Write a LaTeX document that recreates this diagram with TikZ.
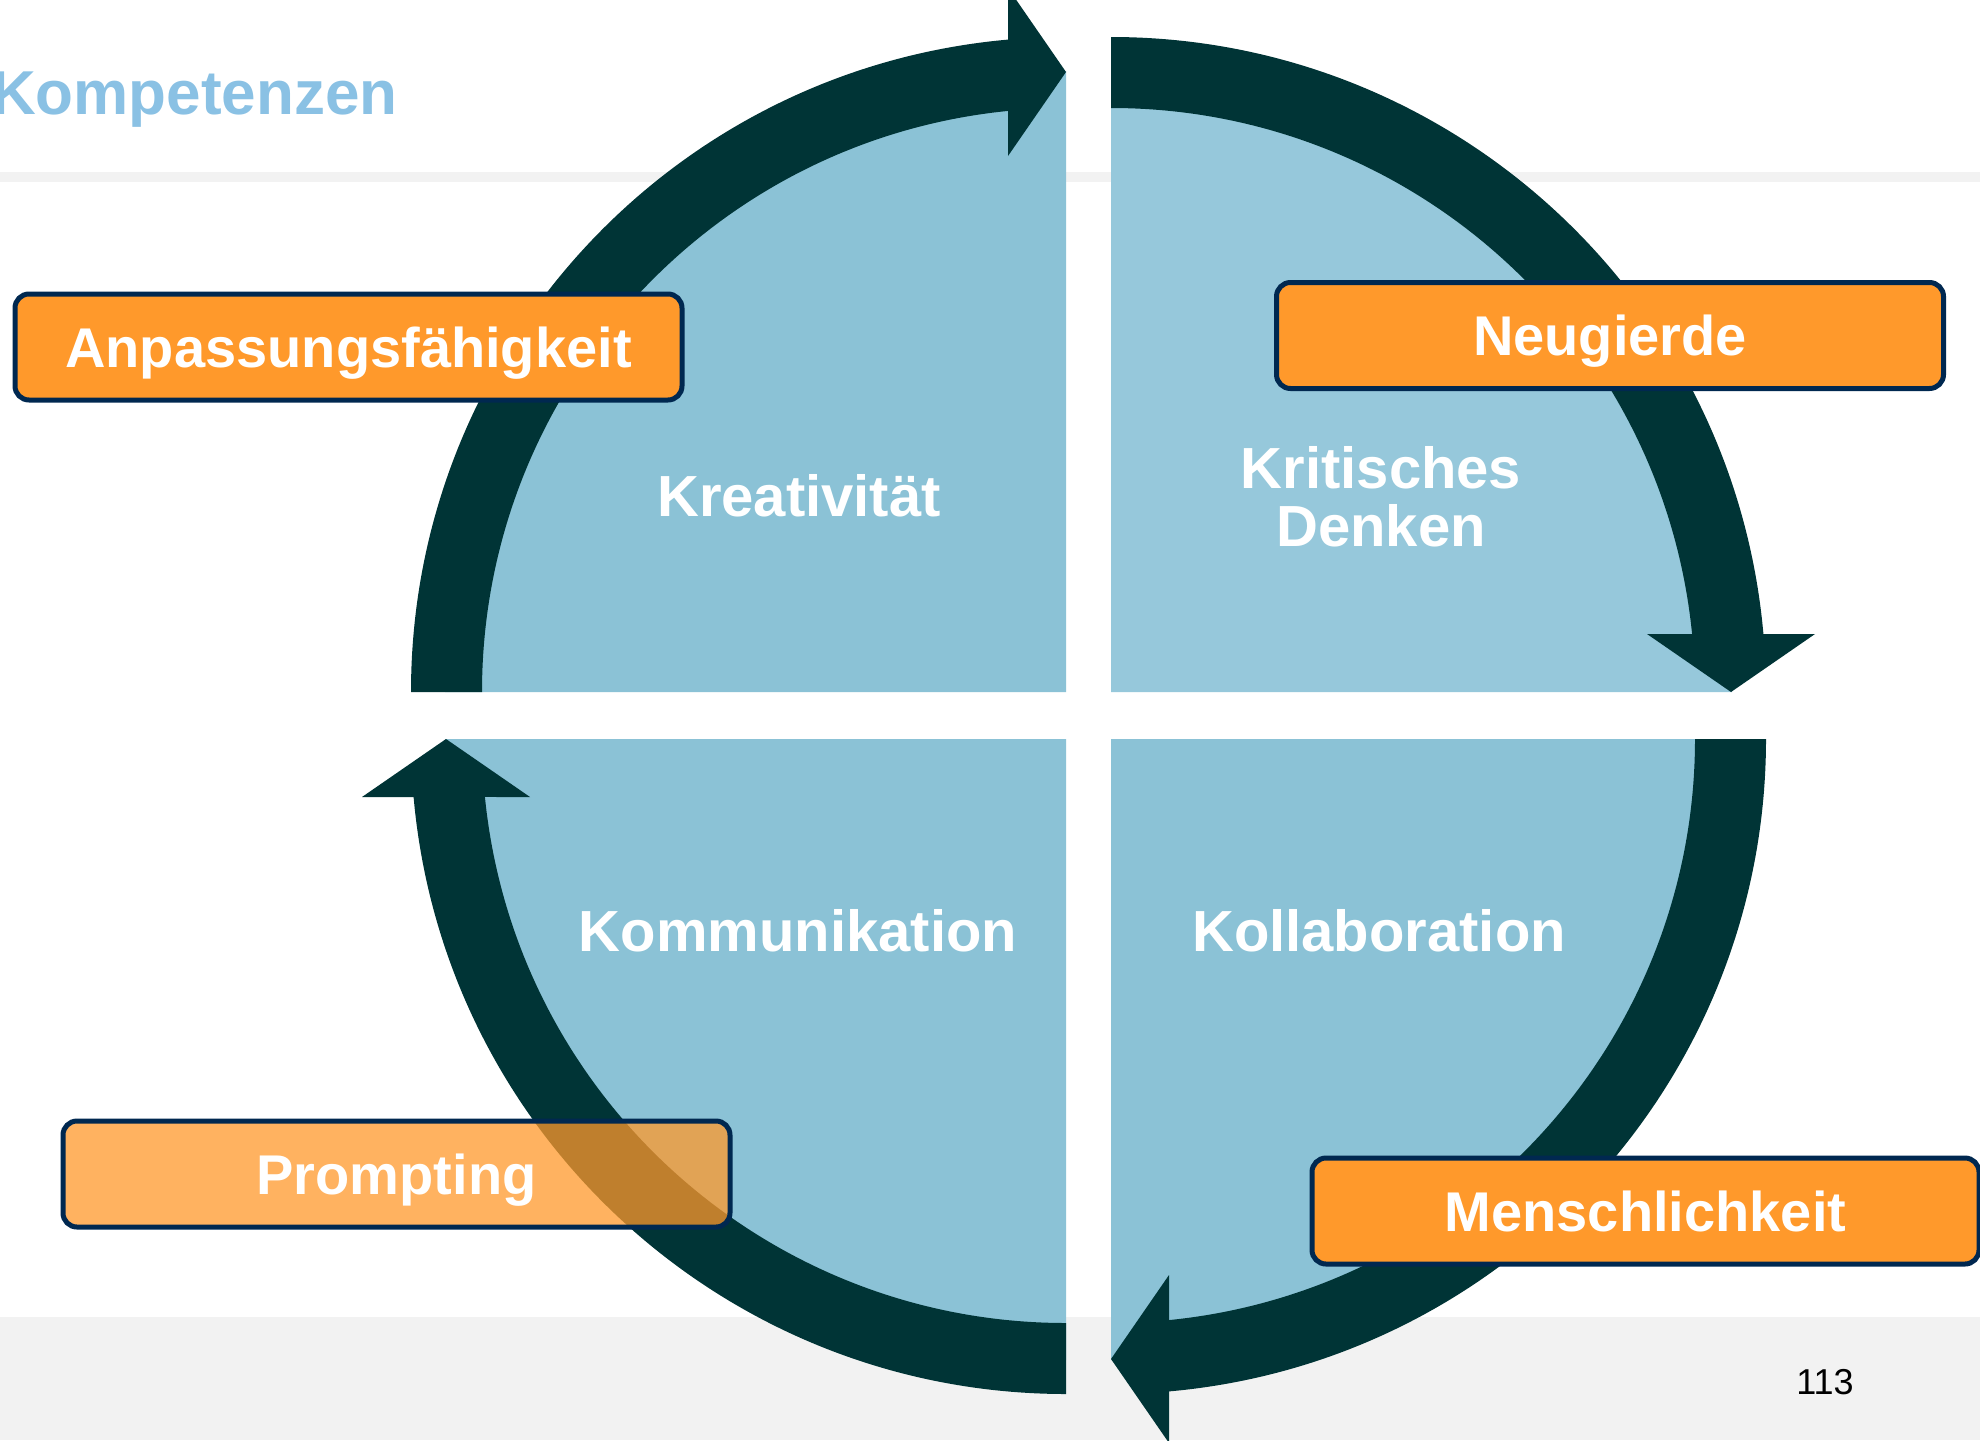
\documentclass[tikz,border=0pt]{standalone}
\usepackage{fontspec}
\setmainfont{Liberation Sans}
\definecolor{bandc}{RGB}{0,52,54}
\definecolor{quadc}{RGB}{139,194,214}
\definecolor{quadlight}{RGB}{150,200,219}
\definecolor{orangec}{RGB}{255,153,43}
\definecolor{navyc}{RGB}{0,40,80}
\definecolor{titlec}{RGB}{138,193,228}
\definecolor{graybg}{RGB}{242,242,242}
\begin{document}
\begin{tikzpicture}[x=0.5pt,y=0.5pt,
  bandfill/.style={fill=bandc},
  tagbox/.style={draw=navyc, line width=2.5pt, fill=orangec, rounded corners=7pt,
    minimum width=333.5pt, minimum height=53pt, inner sep=0pt,
    text height=20pt, text depth=0pt, text=white,
    font=\fontsize{28}{34}\selectfont\bfseries},
  qlabel/.style={text=white, inner sep=0pt, align=center,
    font=\fontsize{29}{29}\selectfont\bfseries}
]
\useasboundingbox (0,0) rectangle (1980,-1440);
\fill[white] (0,0) rectangle (1980,-1440);
\fill[graybg] (0,-172) rectangle (1980,-182);
\fill[graybg] (0,-1317) rectangle (1980,-1440);

% top-left quadrant and arrow
\begin{scope}[shift={(1066,-692)}]
  \fill[quadc] (0,0) -- (180:621) arc[start angle=180,end angle=90,radius=621] -- cycle;
  \fill[bandfill] (180:655) arc[start angle=180,end angle=95.08,radius=655]
    -- (-58,704) -- (0,620) -- (-58,536) -- (95.7:584)
    arc[start angle=95.7,end angle=180,radius=584] -- cycle;
\end{scope}
% top-right
\begin{scope}[shift={(1111,-692)},rotate=-90]
  \fill[quadlight] (0,0) -- (180:621) arc[start angle=180,end angle=90,radius=621] -- cycle;
  \fill[bandfill] (180:655) arc[start angle=180,end angle=95.08,radius=655]
    -- (-58,704) -- (0,620) -- (-58,536) -- (95.7:584)
    arc[start angle=95.7,end angle=180,radius=584] -- cycle;
\end{scope}
% bottom-right
\begin{scope}[shift={(1111,-739)},rotate=-180]
  \fill[quadc] (0,0) -- (180:621) arc[start angle=180,end angle=90,radius=621] -- cycle;
  \fill[bandfill] (180:655) arc[start angle=180,end angle=95.08,radius=655]
    -- (-58,704) -- (0,620) -- (-58,536) -- (95.7:584)
    arc[start angle=95.7,end angle=180,radius=584] -- cycle;
\end{scope}
% bottom-left
\begin{scope}[shift={(1066,-739)},rotate=90]
  \fill[quadc] (0,0) -- (180:621) arc[start angle=180,end angle=90,radius=621] -- cycle;
  \fill[bandfill] (180:655) arc[start angle=180,end angle=95.08,radius=655]
    -- (-58,704) -- (0,620) -- (-58,536) -- (95.7:584)
    arc[start angle=95.7,end angle=180,radius=584] -- cycle;
\end{scope}

% quadrant labels
\node[qlabel, anchor=base] (krea) at (799,-516) {Kreativität};
\node[qlabel] (krit) at (1381,-497) {Kritisches\\Denken};
\node[qlabel, anchor=base] (komm) at (798,-951) {Kommunikation};
\node[qlabel, anchor=base] (koll) at (1379,-951) {Kollaboration};

% tag boxes
\node[tagbox] (anp) at (348.5,-347) {Anpassungsfähigkeit};
\node[tagbox] (neu) at (1610,-335.5) {Neugierde};
\node[tagbox, fill opacity=0.75, text opacity=1, draw opacity=1] (prompt) at (396.5,-1174) {Prompting};
\node[tagbox] (mensch) at (1645.5,-1211) {Menschlichkeit};

% title and page number
\node[anchor=base east, text=titlec, inner sep=0pt,
  font=\fontsize{31}{31}\selectfont\bfseries] (title) at (398,-114) {Kompetenzen};
\node[anchor=base, inner sep=0pt, font=\fontsize{18}{18}\selectfont] (page) at (1825,-1394) {113};
\end{tikzpicture}
\end{document}
